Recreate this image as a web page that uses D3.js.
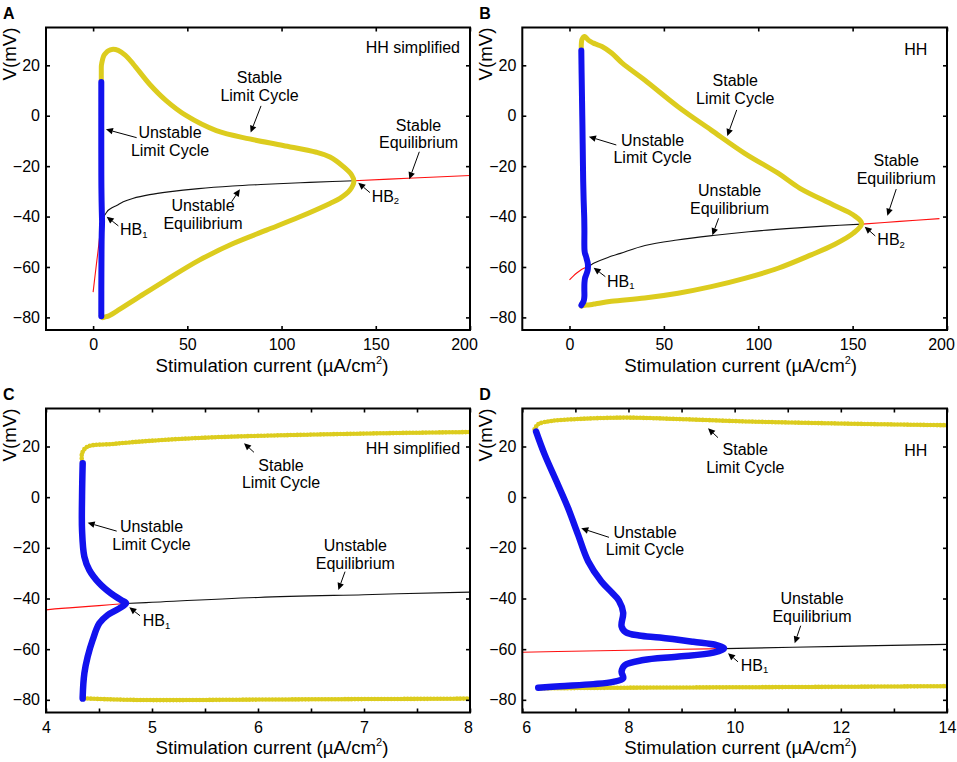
<!DOCTYPE html>
<html><head><meta charset="utf-8">
<script src="https://cdn.jsdelivr.net/npm/d3@7"></script>
<style>
body{margin:0;background:#fff}
svg{display:block}
text{font-family:"Liberation Sans",Arial,Helvetica,sans-serif}
</style>
</head><body>
<svg id="chart" width="957" height="762"></svg>
<script>
// ===== Data: simplified HH model (panels A and C) =====
// stimulation current (uA/cm2) and membrane voltage (mV)
const simpStableEqLowI = [0, 1, 2, 3, 4, 4.25, 4.5, 4.75];
const simpStableEqLowV = [-70, -63.6, -57.4, -51.2, -44.5, -43.6, -42.8, -42];
const simpUnstableEqI = [4.75, 5, 6, 7, 8, 10, 12.5, 16, 21, 30, 40, 56, 74, 92, 110, 127, 138.5];
const simpUnstableEqV = [-42, -41.5, -39.6, -38.5, -37.5, -36.5, -35.6, -34.1, -32.8, -31.3, -30.2, -28.9, -27.9, -27.2, -26.6, -26.1, -25.8];
const simpStableEqHighI = [138.5, 170, 200];
const simpStableEqHighV = [-25.8, -24.7, -23.7];
const simpStableLcI = [4.34, 4.34, 4.39, 4.63, 5, 5.5, 6, 7, 8, 10, 13.3, 17, 21.2, 30, 38.9, 49.5, 65.4, 83, 100.8, 118.5, 125.7, 132.8, 137.2, 138.4,
                       136.3, 131, 125.7, 109.7, 92, 74.3, 56.6, 38.9, 24.8, 12.4, 8, 7, 6, 5, 4.6, 4.34];
const simpStableLcV = [14, 17.3, 19.9, 21, 22.3, 23.5, 24.2, 25.1, 25.7, 26.3, 25.9, 24, 20.6, 12.5, 5.9, 0, -5.9, -9.2, -11.8, -14.5, -16.4, -20.2, -23.5, -26,
                       -29.5, -32.8, -34.8, -40.1, -45.4, -50.7, -57.2, -65.1, -71.7, -77.6, -79.5, -79.7, -79.9, -80.1, -79.8, -79.4];
const simpUnstableLcI = [4.346, 4.34, 4.34, 4.362, 4.409, 4.503, 4.613, 4.708, 4.755, 4.692, 4.582, 4.503, 4.44, 4.393, 4.362, 4.346, 4.346];
const simpUnstableLcV = [13.4, 0.2, -13, -23.5, -28.8, -34, -38, -40.6, -41.9, -43.9, -46.5, -49.8, -56.4, -63, -69.5, -78.8, -79.5];

// ===== Data: full HH model (panels B and D) =====
const hhStableEqLowI = [0, 2, 4, 6, 8, 9.8];
const hhStableEqLowV = [-65.1, -63.6, -62.3, -61.2, -60.4, -59.8];
const hhUnstableEqI = [9.8, 12, 14, 20, 27, 40, 57, 76, 95, 115, 135, 155];
const hhUnstableEqV = [-59.8, -58.9, -58.1, -56.3, -54.6, -51.5, -49.3, -47.5, -46, -44.8, -43.8, -43];
const hhStableEqHighI = [155, 175, 196];
const hhStableEqHighV = [-43, -41.9, -40.8];
const hhStableLcI = [6.23, 6.3, 6.55, 7, 7.43, 8, 9, 10.2, 11.45, 12.7, 14, 17.2, 22.3, 27.8, 39.8, 57.5, 75.1, 92.8, 110.5, 122.1, 139.8, 150.4, 154.8,
                     150.4, 139.8, 128, 110.5, 92.8, 75.1, 57.5, 39.8, 22.2, 14, 12, 10, 8, 6.3];
const hhStableLcV = [26.8, 28.8, 30.1, 30.8, 31.2, 31.4, 30.8, 29.9, 29.3, 28.8, 28.4, 27.5, 24.9, 21, 14.2, 3.6, -5.7, -14.9, -22.8, -28.8, -35.4, -39.4, -42.7,
                     -46.6, -51.3, -55.2, -60.5, -64.5, -67.8, -70.4, -72.3, -73.6, -74.6, -74.85, -75.05, -75.2, -75.5];
const hhUnstableLcI = [6.26, 6.42, 6.67, 6.86, 7.05, 7.24, 7.49, 7.68, 7.82, 7.9, 7.87, 7.95, 8.2, 8.59, 9.22, 9.66, 9.8, 9.6, 8.91, 8.28, 7.93, 7.87, 7.9, 7.71, 7.34, 6.71, 6.3];
const hhUnstableLcV = [25.9, 16.9, 5.0, -4.2, -14.8, -25.3, -33.3, -37.5, -40.8, -45.6, -51, -53.3, -54.6, -55.4, -57.1, -58.4, -59.7, -61.4, -63, -64.3, -66.3, -68.9, -71.5, -72.9, -73.8, -74.6, -75.2];

// ===== Tick values =====
const yTickValues = [-80, -60, -40, -20, 0, 20];
const xTicksWide = [0, 50, 100, 150, 200];
const xTicksC = [4, 4.5, 5, 5.5, 6, 6.5, 7, 7.5, 8];
const xTicksD = [6, 7, 8, 9, 10, 11, 12, 13, 14];

// ===== Annotation texts =====
const txtStableLC = ["Stable", "Limit Cycle"];
const txtUnstableLC = ["Unstable", "Limit Cycle"];
const txtUnstableEq = ["Unstable", "Equilibrium"];
const txtStableEq = ["Stable", "Equilibrium"];
const xAxisTitle = "Stimulation current (\u00B5A/cm";
const yAxisTitle = "V(mV)";

function zip(I, V) { return I.map((d, i) => [d, V[i]]); }
const models = {
  simp: {
    eqLow: zip(simpStableEqLowI, simpStableEqLowV),
    eqMid: zip(simpUnstableEqI, simpUnstableEqV),
    eqHigh: zip(simpStableEqHighI, simpStableEqHighV),
    slc: zip(simpStableLcI, simpStableLcV),
    ulc: zip(simpUnstableLcI, simpUnstableLcV)
  },
  hh: {
    eqLow: zip(hhStableEqLowI, hhStableEqLowV),
    eqMid: zip(hhUnstableEqI, hhUnstableEqV),
    eqHigh: zip(hhStableEqHighI, hhStableEqHighV),
    slc: zip(hhStableLcI, hhStableLcV),
    ulc: zip(hhUnstableLcI, hhUnstableLcV)
  }
};

const panels = [
  { id: "A", model: "simp", left: 46, right: 470, top: 27.5, bottom: 330, xDomain: [-25, 200], xTicks: xTicksWide,
    xFmt: d => d, firstDx: 0, lastDx: -6, xTitleDx: 14, beads: false, tag: "HH simplified", tagAt: [194.7, 24.9],
    notes: [
      { lines: txtStableLC, at: [88.3, 13.0], from: [89.1, 3.9], to: [83.6, -6.7] },
      { lines: txtUnstableLC, at: [40.8, -8.95], from: [23.1, -8.7], to: [6.8, -5.4] },
      { lines: txtUnstableEq, at: [58.3, -37.8], from: [73.5, -34.1], to: [77.9, -29.2] },
      { lines: txtStableEq, at: [172.7, -5.9], from: [173.1, -14.3], to: [167.8, -25.2] },
      { hb: "1", at: [14.3, -47.4], from: [13.4, -43.7], to: [7.2, -40.05] },
      { hb: "2", at: [147.8, -34.1], from: [146.9, -30.5], to: [140.7, -26.6] }
    ] },
  { id: "B", model: "hh", left: 522.3, right: 947, top: 27.5, bottom: 330, xDomain: [-25, 200], xTicks: xTicksWide,
    xFmt: d => d, firstDx: 0, lastDx: -6, xTitleDx: 6, beads: false, tag: "HH", tagAt: [189.6, 24.1],
    notes: [
      { lines: txtStableLC, at: [87.8, 11.8], from: [88.6, 2.3], to: [83.6, -8.0] },
      { lines: txtUnstableLC, at: [44, -11.9], from: [24.8, -11.6], to: [10.3, -8.3] },
      { lines: txtUnstableEq, at: [84.8, -31.8], from: [79, -40.7], to: [75.7, -47.4] },
      { lines: txtStableEq, at: [173.1, -19.9], from: [173.1, -29.1], to: [168.4, -39.65] },
      { hb: "1", at: [19.9, -67.8], from: [19, -63.85], to: [12.8, -60.3] },
      { hb: "2", at: [163.1, -51.3], from: [162, -47.7], to: [156.4, -44] }
    ] },
  { id: "C", model: "simp", left: 46, right: 470, top: 408.5, bottom: 712.5, xDomain: [4, 8], xTicks: xTicksC,
    xFmt: d => Number.isInteger(d) ? d : "", firstDx: 0, lastDx: -2, xTitleDx: 14, beads: true, tag: "HH simplified", tagAt: [7.906, 17.0],
    notes: [
      { lines: txtStableLC, at: [6.217, 10.45], from: [5.962, 17.7], to: [5.868, 21.3] },
      { lines: txtUnstableLC, at: [4.995, -13.9], from: [4.667, -13.4], to: [4.393, -10.1] },
      { lines: txtUnstableEq, at: [6.918, -21.3], from: [6.821, -29.4], to: [6.758, -36.65] },
      { hb: "1", at: [4.912, -50.9], from: [4.887, -46.8], to: [4.786, -43.5] }
    ] },
  { id: "D", model: "hh", left: 522.3, right: 947, top: 408.5, bottom: 712.5, xDomain: [6, 14], xTicks: xTicksD,
    xFmt: d => d % 2 === 0 ? d : "", firstDx: 4, lastDx: 0, xTitleDx: 6, beads: true, tag: "HH", tagAt: [13.63, 16.4],
    notes: [
      { lines: txtStableLC, at: [10.2, 16.6], from: [9.686, 23.5], to: [9.498, 27.2] },
      { lines: txtUnstableLC, at: [8.311, -16], from: [7.633, -15.85], to: [7.111, -12.3] },
      { lines: txtUnstableEq, at: [11.457, -42.3], from: [11.244, -50.75], to: [11.131, -57.7] },
      { hb: "1", at: [10.114, -68.6], from: [10.063, -65], to: [9.875, -61.6] }
    ] }
];

const YELLOW = "#dccc1e", BLUE = "#1212ee", RED = "#ff1010";
const svg = d3.select("#chart");
const defs = svg.append("defs");

panels.forEach(p => {
  const x = d3.scaleLinear().domain(p.xDomain).range([p.left, p.right]);
  const y = d3.scaleLinear().domain([-85, 35]).range([p.bottom, p.top]);
  const m = models[p.model];
  const g = svg.append("g");

  defs.append("clipPath").attr("id", "clip" + p.id).append("rect")
    .attr("x", p.left).attr("y", p.top).attr("width", p.right - p.left).attr("height", p.bottom - p.top);
  const plot = g.append("g").attr("clip-path", `url(#clip${p.id})`);
  const line = d3.line().x(d => x(d[0])).y(d => y(d[1])).curve(d3.curveCatmullRom.alpha(0.5));

  // equilibria
  plot.append("path").datum(m.eqLow).attr("d", line).attr("fill", "none").attr("stroke", RED).attr("stroke-width", 1.1);
  plot.append("path").datum(m.eqHigh).attr("d", line).attr("fill", "none").attr("stroke", RED).attr("stroke-width", 1.1);
  plot.append("path").datum(m.eqMid).attr("d", line).attr("fill", "none").attr("stroke", "#111").attr("stroke-width", 1.1);

  // stable limit cycle
  if (p.beads) {
    plot.append("path").datum(m.slc).attr("d", line).attr("fill", "none").attr("stroke", YELLOW)
      .attr("stroke-width", 3).attr("stroke-linejoin", "round").attr("stroke-linecap", "round");
    plot.append("path").datum(m.slc).attr("d", line).attr("fill", "none").attr("stroke", YELLOW)
      .attr("stroke-width", 4.6).attr("stroke-dasharray", "0 3.3").attr("stroke-linecap", "round");
  } else {
    plot.append("path").datum(m.slc).attr("d", line).attr("fill", "none").attr("stroke", YELLOW)
      .attr("stroke-width", 5).attr("stroke-linejoin", "round").attr("stroke-linecap", "round");
  }
  // unstable limit cycle
  plot.append("path").datum(m.ulc).attr("d", line).attr("fill", "none").attr("stroke", BLUE)
    .attr("stroke-width", p.beads ? 6.5 : 6).attr("stroke-linejoin", "round").attr("stroke-linecap", "round");

  // axes (inward ticks on all four sides)
  const styleAxis = sel => {
    sel.select(".domain").remove();
    sel.selectAll(".tick line").attr("stroke", "#000").attr("stroke-width", 1.6);
    sel.selectAll("text").attr("font-family", '"Liberation Sans", Arial, sans-serif').attr("font-size", 16).attr("fill", "#000");
  };
  const xb = g.append("g").attr("transform", `translate(0,${p.bottom})`)
    .call(d3.axisBottom(x).tickValues(p.xTicks).tickFormat(p.xFmt).tickSizeInner(-4).tickSizeOuter(0).tickPadding(9)).call(styleAxis);
  const xtexts = xb.selectAll(".tick text");
  const n = xtexts.size();
  xtexts.attr("dx", (d, i) => i === 0 ? p.firstDx : (i === n - 1 ? p.lastDx : 0));
  g.append("g").attr("transform", `translate(0,${p.top})`)
    .call(d3.axisTop(x).tickValues(p.xTicks).tickFormat("").tickSizeInner(-4).tickSizeOuter(0)).call(styleAxis);
  g.append("g").attr("transform", `translate(${p.left},0)`)
    .call(d3.axisLeft(y).tickValues(yTickValues).tickSizeInner(-4).tickSizeOuter(0).tickPadding(6)).call(styleAxis);
  g.append("g").attr("transform", `translate(${p.right},0)`)
    .call(d3.axisRight(y).tickValues(yTickValues).tickFormat("").tickSizeInner(-4).tickSizeOuter(0)).call(styleAxis);

  g.append("rect").attr("x", p.left).attr("y", p.top).attr("width", p.right - p.left).attr("height", p.bottom - p.top)
    .attr("fill", "none").attr("stroke", "#000").attr("stroke-width", 2);

  // titles
  const xt = g.append("text").attr("x", (p.left + p.right) / 2 + p.xTitleDx).attr("y", p.bottom + 41.7)
    .attr("text-anchor", "middle").attr("font-size", 18.7).attr("fill", "#000");
  xt.append("tspan").text(xAxisTitle);
  xt.append("tspan").attr("font-size", 11).attr("dy", -8).text("2");
  xt.append("tspan").attr("dy", 8).text(")");
  g.append("text").attr("transform", `translate(${p.left - 30},${p.top + 26.5}) rotate(-90)`)
    .attr("text-anchor", "middle").attr("font-size", 18.7).attr("fill", "#000").text(yAxisTitle);
  g.append("text").attr("x", p.left - 43).attr("y", p.top - 8.5).attr("font-size", 16).attr("font-weight", "bold")
    .attr("fill", "#000").text(p.id);

  // model tag
  g.append("text").attr("x", x(p.tagAt[0])).attr("y", y(p.tagAt[1])).attr("text-anchor", "end")
    .attr("font-size", 16).attr("fill", "#000").text(p.tag);

  // annotations
  p.notes.forEach(a => {
    const fx = x(a.from[0]), fy = y(a.from[1]), tx = x(a.to[0]), ty = y(a.to[1]);
    const ang = Math.atan2(ty - fy, tx - fx);
    const hl = 7, hw = 3.3;
    const bx = tx - hl * Math.cos(ang), by = ty - hl * Math.sin(ang);
    g.append("line").attr("x1", fx).attr("y1", fy).attr("x2", bx).attr("y2", by)
      .attr("stroke", "#000").attr("stroke-width", 1);
    g.append("path").attr("d", `M${tx},${ty}L${bx + hw * Math.sin(ang)},${by - hw * Math.cos(ang)}L${bx - hw * Math.sin(ang)},${by + hw * Math.cos(ang)}Z`)
      .attr("fill", "#000");
    if (a.lines) {
      a.lines.forEach((t, i) => {
        g.append("text").attr("x", x(a.at[0])).attr("y", y(a.at[1]) + i * 17.7).attr("text-anchor", "middle")
          .attr("font-size", 16).attr("fill", "#000").text(t);
      });
    } else {
      const t = g.append("text").attr("x", x(a.at[0])).attr("y", y(a.at[1])).attr("font-size", 16).attr("fill", "#000");
      t.append("tspan").text("HB");
      t.append("tspan").attr("font-size", 9.5).attr("dy", 2.5).text(a.hb);
    }
  });
});
</script>
</body></html>
